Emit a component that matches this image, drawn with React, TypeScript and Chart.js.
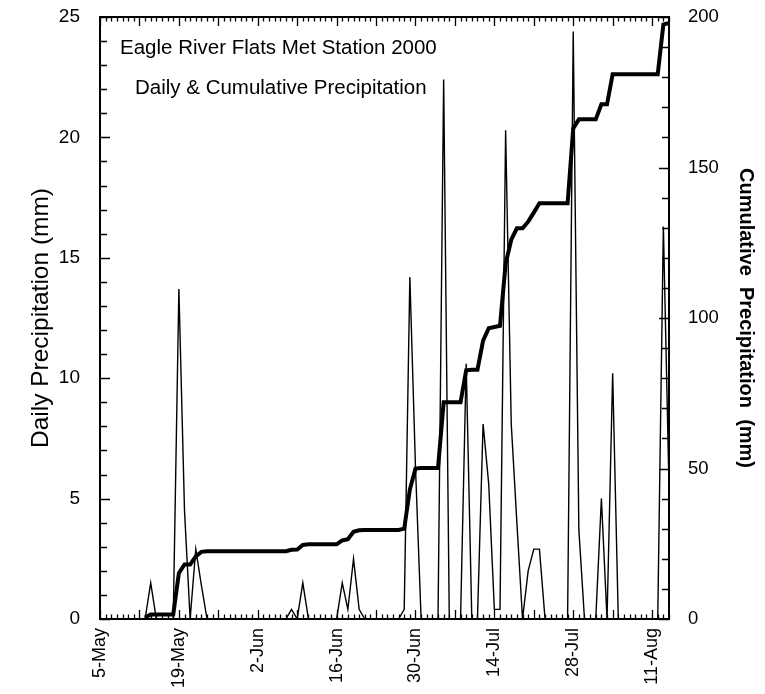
import React, { useEffect, useRef } from "react";
import { Chart, registerables } from "chart.js";

Chart.register(...registerables);

// Day offsets counted from 5-May-2000 (day 0)
const days = [
  8, 9, 10, 11, 12, 13, 14, 15, 16, 17, 18, 19, 20, 21, 22, 23, 24, 25, 26, 27,
  28, 29, 30, 31, 32, 33, 34, 35, 36, 37, 38, 39, 40, 41, 42, 43, 44, 45, 46, 47,
  48, 49, 50, 51, 52, 53, 54, 55, 56, 57, 58, 59, 60, 61, 62, 63, 64, 65, 66, 67,
  68, 69, 70, 71, 72, 73, 74, 75, 76, 77, 78, 79, 80, 81, 82, 83, 84, 85, 86, 87,
  88, 89, 90, 91, 92, 93, 94, 95, 96, 97, 98, 99, 100, 101,
];

// Daily precipitation (mm)
const dailyPrecip = [
  0, 1.5, 0, 0, 0, 0, 13.7, 4.5, 0, 2.9, 1.4, 0, 0, 0, 0, 0, 0, 0, 0, 0,
  0, 0, 0, 0, 0, 0, 0.4, 0, 1.5, 0, 0, 0, 0, 0, 0, 1.5, 0.4, 2.5, 0.4, 0,
  0, 0, 0, 0, 0, 0, 0.4, 14.2, 6.3, 0, 0, 0, 0, 22.4, 0, 0, 0, 10.6, 0, 0,
  8.1, 5.6, 0.4, 0.4, 20.3, 8.1, 4.0, 0, 2.0, 2.9, 2.9, 0, 0, 0, 0, 0, 24.4, 3.7, 0, 0,
  0, 5.0, 0, 10.2, 0, 0, 0, 0, 0, 0, 0, 0, 16.3, 5.5,
];

// Cumulative precipitation (mm)
const cumulativePrecip = [
  0.5, 1.5, 1.5, 1.5, 1.5, 1.5, 15.2, 18.1, 18.1, 20.8, 22.3, 22.5, 22.5, 22.5, 22.5, 22.5, 22.5, 22.5, 22.5, 22.5,
  22.5, 22.5, 22.5, 22.5, 22.5, 22.5, 23.0, 23.1, 24.6, 24.8, 24.8, 24.8, 24.8, 24.8, 24.8, 26.1, 26.5, 29.0, 29.5, 29.6,
  29.6, 29.6, 29.6, 29.6, 29.6, 29.6, 30.0, 43.0, 50.0, 50.2, 50.2, 50.2, 50.2, 72.0, 72.0, 72.0, 72.0, 82.6, 82.8, 82.8,
  92.5, 96.6, 97.0, 97.4, 118, 126, 129.8, 129.8, 132, 135, 138.1, 138.1, 138.1, 138.1, 138.1, 138.1, 163, 166, 166, 166,
  166, 171, 171, 181, 181, 181, 181, 181, 181, 181, 181, 181, 197.5, 198,
];

const xTickDays = [0, 14, 28, 42, 56, 70, 84, 98];
const xTickLabels = ["5-May", "19-May", "2-Jun", "16-Jun", "30-Jun", "14-Jul", "28-Jul", "11-Aug"];

const titleLines = ["Eagle River Flats Met Station 2000", "Daily & Cumulative Precipitation"];

const FONT = "'Liberation Sans', Arial, Helvetica, sans-serif";

const frameTicks = {
  id: "frameTicks",
  afterDatasetsDraw(chart: any) {
    const { ctx, chartArea: a, scales } = chart;
    ctx.save();
    ctx.strokeStyle = "#000";
    // top border
    ctx.lineWidth = 2;
    ctx.beginPath();
    ctx.moveTo(a.left - 1, a.top);
    ctx.lineTo(a.right + 1, a.top);
    ctx.stroke();
    ctx.lineWidth = 1.3;
    ctx.beginPath();
    const xs = scales.x;
    for (let d = Math.ceil(xs.min); d <= xs.max; d++) {
      const px = Math.round(xs.getPixelForValue(d)) + 0.5;
      const len = d % 7 === 0 ? 9 : 4.5;
      ctx.moveTo(px, a.bottom);
      ctx.lineTo(px, a.bottom - len);
      ctx.moveTo(px, a.top);
      ctx.lineTo(px, a.top + len);
    }
    const yl = scales.y;
    for (let v = yl.min; v <= yl.max; v += 1) {
      const py = Math.round(yl.getPixelForValue(v)) + 0.5;
      const len = v % 5 === 0 ? 10 : 7;
      ctx.moveTo(a.left, py);
      ctx.lineTo(a.left + len, py);
    }
    const yr = scales.y1;
    for (let v = yr.min; v <= yr.max; v += 10) {
      const py = Math.round(yr.getPixelForValue(v)) + 0.5;
      const len = v % 50 === 0 ? 10 : 7;
      ctx.moveTo(a.right, py);
      ctx.lineTo(a.right - len, py);
    }
    ctx.stroke();

    // in-plot title text
    ctx.fillStyle = "#000";
    ctx.font = `20.5px ${FONT}`;
    ctx.textBaseline = "middle";
    ctx.textAlign = "left";
    ctx.fillText(titleLines[0], a.left + 20, 48);
    ctx.fillText(titleLines[1], a.left + 35, 88);
    ctx.restore();
  },
};

const noPad = (s: any) => {
  s.paddingTop = 0;
  s.paddingBottom = 0;
  s.paddingLeft = 0;
  s.paddingRight = 0;
};

export default function App() {
  const canvasRef = useRef<HTMLCanvasElement | null>(null);

  useEffect(() => {
    document.body.style.margin = "0";
    const canvas = canvasRef.current;
    if (!canvas) return;
    const chart = new Chart(canvas, {
      type: "line",
      data: {
        datasets: [
          {
            label: "Daily Precipitation",
            data: days.map((d, i) => ({ x: d, y: dailyPrecip[i] })),
            yAxisID: "y",
            borderColor: "#000",
            borderWidth: 1.4,
            pointRadius: 0,
            tension: 0,
            fill: false,
          },
          {
            label: "Cumulative Precipitation",
            data: days.map((d, i) => ({ x: d, y: cumulativePrecip[i] })),
            yAxisID: "y1",
            borderColor: "#000",
            borderWidth: 4,
            pointRadius: 0,
            tension: 0,
            fill: false,
          },
        ],
      },
      options: {
        responsive: false,
        animation: false,
        layout: { padding: { top: 17, left: 0, right: 0, bottom: 0 } },
        plugins: {
          legend: { display: false },
          tooltip: { enabled: false },
        },
        scales: {
          x: {
            type: "linear",
            position: "bottom",
            min: 0,
            max: 101,
            afterBuildTicks: (s: any) => {
              s.ticks = xTickDays.map((v) => ({ value: v }));
            },
            afterFit: (s: any) => {
              s.height = 75;
              noPad(s);
            },
            ticks: {
              autoSkip: false,
              minRotation: 90,
              maxRotation: 90,
              padding: 9,
              color: "#000",
              font: { family: FONT, size: 18 },
              callback: (v: any) => {
                const i = xTickDays.indexOf(Number(v));
                return i >= 0 ? xTickLabels[i] : "";
              },
            },
            grid: { display: false, drawTicks: false },
            border: { display: true, color: "#000", width: 2 },
          },
          y: {
            type: "linear",
            position: "left",
            min: 0,
            max: 25,
            afterFit: (s: any) => {
              s.width = 100;
              noPad(s);
            },
            ticks: {
              stepSize: 5,
              padding: 20,
              color: "#000",
              font: { family: FONT, size: 19 },
            },
            title: {
              display: true,
              text: "Daily Precipitation (mm)",
              color: "#000",
              font: { family: FONT, size: 24.5 },
              padding: { top: 27, bottom: 0 },
            },
            grid: { display: false, drawTicks: false },
            border: { display: true, color: "#000", width: 2 },
          },
          y1: {
            type: "linear",
            position: "right",
            min: 0,
            max: 200,
            afterFit: (s: any) => {
              s.width = 96;
              noPad(s);
            },
            ticks: {
              stepSize: 50,
              padding: 19,
              color: "#000",
              font: { family: FONT, size: 18.5 },
            },
            title: {
              display: true,
              text: "Cumulative  Precipitation  (mm)",
              color: "#000",
              font: { family: FONT, size: 20, weight: "bold" },
              padding: { top: 7, bottom: 0 },
            },
            grid: { display: false, drawTicks: false },
            border: { display: true, color: "#000", width: 2 },
          },
        },
      },
      plugins: [frameTicks],
    });
    return () => chart.destroy();
  }, []);

  return (
    <div style={{ width: 765, height: 694, background: "#fff" }}>
      <canvas ref={canvasRef} width={765} height={694} style={{ display: "block" }} />
    </div>
  );
}
